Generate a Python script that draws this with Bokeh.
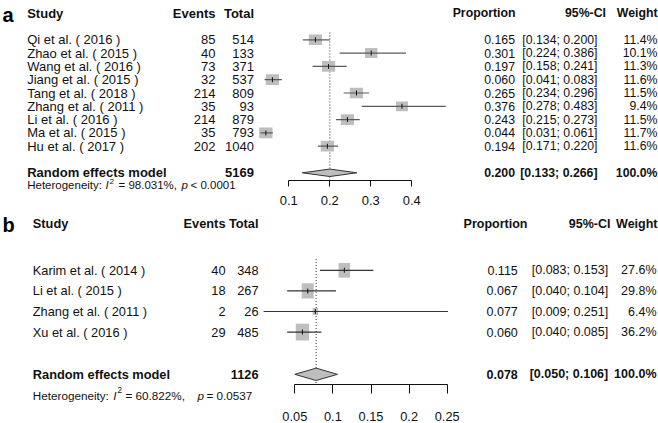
import math
from bokeh.plotting import figure
from bokeh.models import Range1d, LinearAxis, FixedTicker
from bokeh.core.properties import value
from bokeh.embed import file_html
from bokeh.resources import INLINE

# ---------------- data: panel a ----------------
studies_a = ["Qi et al. ( 2016 )", "Zhao et al. ( 2015 )", "Wang et al. ( 2016 )",
             "Jiang et al. ( 2015 )", "Tang et al. ( 2018 )", "Zhang et al. ( 2011 )",
             "Li et al. ( 2016 )", "Ma et al. ( 2015 )", "Hu et al. ( 2017 )"]
events_a = [85, 40, 73, 32, 214, 35, 214, 35, 202]
total_a = [514, 133, 371, 537, 809, 93, 879, 793, 1040]
prop_a = [0.165, 0.301, 0.197, 0.060, 0.265, 0.376, 0.243, 0.044, 0.194]
lo_a = [0.134, 0.224, 0.158, 0.041, 0.234, 0.278, 0.215, 0.031, 0.171]
hi_a = [0.200, 0.386, 0.241, 0.083, 0.296, 0.483, 0.273, 0.061, 0.220]
weight_a = [11.4, 10.1, 11.3, 11.6, 11.5, 9.4, 11.5, 11.7, 11.6]
sum_total_a = 5169
sum_prop_a, sum_lo_a, sum_hi_a = 0.200, 0.133, 0.266
i2_a = 98.031
pval_a = "< 0.0001"
ticks_a = [0.1, 0.2, 0.3, 0.4]
tick_labels_a = ["0.1", "0.2", "0.3", "0.4"]

# ---------------- data: panel b ----------------
studies_b = ["Karim et al. ( 2014 )", "Li et al. ( 2015 )",
             "Zhang et al. ( 2011 )", "Xu et al. ( 2016 )"]
events_b = [40, 18, 2, 29]
total_b = [348, 267, 26, 485]
prop_b = [0.115, 0.067, 0.077, 0.060]
lo_b = [0.083, 0.040, 0.009, 0.040]
hi_b = [0.153, 0.104, 0.251, 0.085]
weight_b = [27.6, 29.8, 6.4, 36.2]
sum_total_b = 1126
sum_prop_b, sum_lo_b, sum_hi_b = 0.078, 0.050, 0.106
i2_b = 60.822
pval_b = "= 0.0537"
ticks_b = [0.05, 0.1, 0.15, 0.2, 0.25]
tick_labels_b = ["0.05", "0.1", "0.15", "0.2", "0.25"]

# ---------------- layout (page pixels) ----------------
W, H = 658, 423
FA = "Liberation Sans"

# panel a geometry
A_X0, A_XS = 247.3, 410.0     # page x of proportion 0, px per unit
A_Y0, A_YS = 39.3, 13.3       # page y of first study row, px per row
A_AXIS = 10.58
# panel b geometry
B_X0, B_XS = 256.2, 762.0
B_Y0, B_YS = 269.8, 20.6
B_AXIS = 5.55

p = figure(width=W, height=H, output_backend="svg", toolbar_location=None,
           x_range=Range1d(0, W), y_range=Range1d(H, 0),
           x_axis_type=None, y_axis_type=None, min_border=0,
           outline_line_color=None, background_fill_color="white",
           border_fill_color="white")

p.extra_x_ranges["pa"] = Range1d(-A_X0 / A_XS, (W - A_X0) / A_XS)
p.extra_y_ranges["ya"] = Range1d((H - A_Y0) / A_YS, -A_Y0 / A_YS)
p.extra_x_ranges["pb"] = Range1d(-B_X0 / B_XS, (W - B_X0) / B_XS)
p.extra_y_ranges["yb"] = Range1d((H - B_Y0) / B_YS, -B_Y0 / B_YS)


def txt(xs, ys, texts, yr, size, align, style="normal",
        baseline="middle", color="#111111"):
    p.text(x=xs, y=ys, text=texts, y_range_name=yr,
           text_font=value(FA), text_font_size=value(f"{size}px"),
           text_align=align, text_baseline=baseline,
           text_font_style=style, text_color=color)


def panel(letter, letter_y, studies, events, total, prop, lo, hi, weight,
          s_total, s_prop, s_lo, s_hi, i2, pval, ticks, tick_labels,
          xr, yr, fs_l, fs_r, hs, cols, hdr_cols, hdr_row, het_x,
          sq_k, line_col, dia_h, axis_loc, tick_out, standoff, ax_fs,
          het_row, sum_row):
    n = len(studies)
    rows = list(range(n))
    # panel letter
    p.text(x=[2], y=[letter_y], text=[letter], text_font=value(FA),
           text_font_size=value("20px"), text_font_style="bold",
           text_align="left", text_baseline="alphabetic", text_color="#000000")
    # headers
    sx, ex, tx, px_, cx, wx = cols
    hex_, htx, hpx, hcx, hwx = hdr_cols
    txt([sx], [hdr_row], ["Study"], yr, fs_l, "left", "bold")
    txt([hex_, htx], [hdr_row] * 2, ["Events", "Total"], yr, fs_l, "right", "bold")
    txt([hpx, hcx, hwx], [hdr_row] * 3, ["Proportion", "95%-CI", "Weight"],
        yr, fs_r, "right", "bold")
    # study rows
    txt([sx] * n, rows, studies, yr, fs_l, "left")
    txt([ex] * n, rows, [str(v) for v in events], yr, fs_l, "right")
    txt([tx] * n, rows, [str(v) for v in total], yr, fs_l, "right")
    txt([px_] * n, rows, [f"{v:.3f}" for v in prop], yr, fs_r, "right")
    txt([cx] * n, rows, [f"[{a:.3f}; {b:.3f}]" for a, b in zip(lo, hi)],
        yr, fs_r, "right")
    txt([wx] * n, rows, [f"{w:.1f}%" for w in weight], yr, fs_r, "right")
    # summary row
    txt([sx], [sum_row], ["Random effects model"], yr, fs_l, "left", "bold")
    txt([tx], [sum_row], [str(s_total)], yr, fs_l, "right", "bold")
    txt([px_, cx, wx], [sum_row] * 3,
        [f"{s_prop:.3f}", f"[{s_lo:.3f}; {s_hi:.3f}]", "100.0%"],
        yr, fs_r, "right", "bold")
    # heterogeneity
    x1, x2, x3, x4, x5, x6 = het_x
    txt([x1], [het_row], ["Heterogeneity:"], yr, hs, "left")
    txt([x2], [het_row], ["I"], yr, hs, "left", "italic")
    txt([x3], [het_row - 0.3], ["2"], yr, hs * 0.7, "left")
    txt([x4], [het_row], [f"= {i2:.3f}%,"], yr, hs, "left")
    txt([x5], [het_row], ["p"], yr, hs, "left", "italic")
    txt([x6], [het_row], [pval], yr, hs, "left")
    # reference line at pooled estimate
    p.segment(x0=[s_prop], x1=[s_prop], y0=[-0.55], y1=[axis_loc],
              x_range_name=xr, y_range_name=yr, line_color="#333333",
              line_width=1, line_dash="1 2")
    # squares, CIs, centre ticks
    p.rect(x=prop, y=rows, width=[sq_k[0] * math.sqrt(w) for w in weight],
           height=[sq_k[1] * math.sqrt(w) for w in weight],
           width_units="screen", height_units="screen",
           fill_color="#bebebe", line_color=None,
           x_range_name=xr, y_range_name=yr)
    p.segment(x0=lo, x1=hi, y0=rows, y1=rows, x_range_name=xr,
              y_range_name=yr, line_color=line_col, line_width=1.2)
    p.rect(x=prop, y=rows, width=1, height=5, width_units="screen",
           height_units="screen", fill_color="#111111", line_color=None,
           x_range_name=xr, y_range_name=yr)
    # diamond
    p.patch(x=[s_lo, s_prop, s_hi, s_prop],
            y=[sum_row, sum_row - dia_h, sum_row, sum_row + dia_h],
            fill_color="#bebebe", line_color="#333333", line_width=1,
            x_range_name=xr, y_range_name=yr)
    # axis
    ax = LinearAxis(x_range_name=xr, y_range_name=yr, fixed_location=axis_loc,
                    bounds=(ticks[0], ticks[-1]),
                    ticker=FixedTicker(ticks=ticks, minor_ticks=[]),
                    major_label_overrides=dict(zip(ticks, tick_labels)))
    ax.major_tick_in = 0
    ax.major_tick_out = tick_out
    ax.minor_tick_in = 0
    ax.minor_tick_out = 0
    ax.axis_line_color = "#111111"
    ax.major_tick_line_color = "#111111"
    ax.major_label_text_font = FA
    ax.major_label_text_font_size = f"{ax_fs}px"
    ax.major_label_text_color = "#111111"
    ax.major_label_standoff = standoff
    p.add_layout(ax, "below")


panel("a", 14, studies_a, events_a, total_a, prop_a, lo_a, hi_a, weight_a,
      sum_total_a, sum_prop_a, sum_lo_a, sum_hi_a, i2_a, pval_a,
      ticks_a, tick_labels_a, "pa", "ya", 13, 12.3, 11.5,
      (26.7, 215, 253.5, 514.5, 597, 657),
      (215, 253.5, 515, 605.5, 657), -2.0,
      (26.7, 105, 109, 118, 181, 190),
      (3.9, 3.15), "#5a5a5a", 0.28, A_AXIS, 6, 9, 13, 10.95, 10)

panel("b", 224, studies_b, events_b, total_b, prop_b, lo_b, hi_b, weight_b,
      sum_total_b, sum_prop_b, sum_lo_b, sum_hi_b, i2_b, pval_b,
      ticks_b, tick_labels_b, "pb", "yb", 12.8, 12.5, 11.7,
      (32.3, 225, 258, 517.3, 607.7, 656),
      (225, 258, 527, 610, 657), -2.27,
      (32.3, 112.7, 117, 125, 197, 206),
      (2.2, 2.8), "#333333", 0.3, B_AXIS, 9, 18, 12.8, 6.1, 5.05)

open("out.html", "w").write(file_html(p, INLINE))
